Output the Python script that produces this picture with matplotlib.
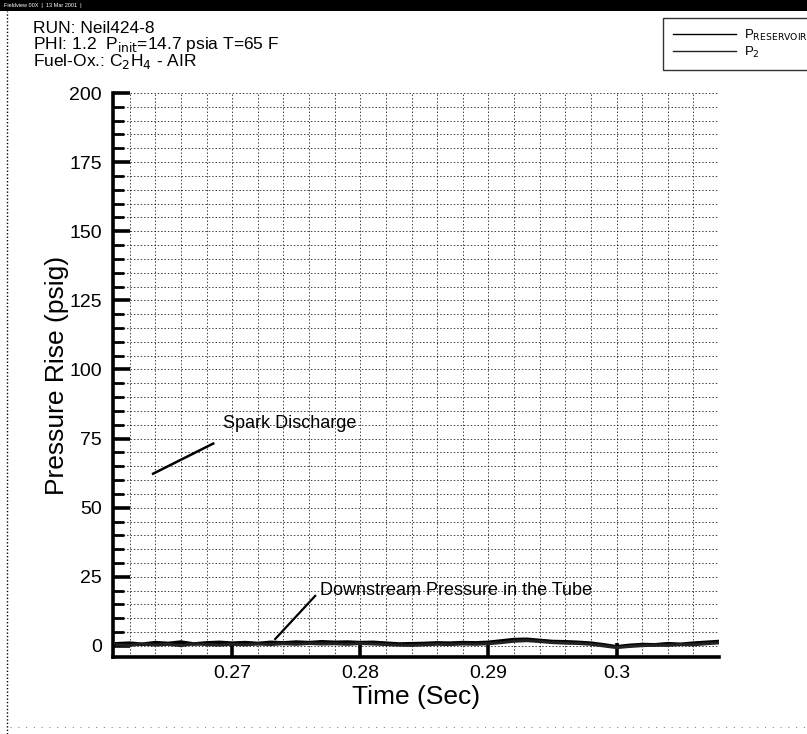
import matplotlib
matplotlib.use("Agg")
import matplotlib.pyplot as plt
from matplotlib.ticker import MultipleLocator, FixedLocator
from matplotlib.patches import Rectangle
from matplotlib.lines import Line2D

plt.rcParams['font.family'] = ['Liberation Sans', 'DejaVu Sans']

# ---------------- data ----------------
time_s = [0.261, 0.262, 0.263, 0.264, 0.265, 0.266, 0.267, 0.268, 0.269, 0.270,
          0.271, 0.272, 0.273, 0.274, 0.275, 0.276, 0.277, 0.278, 0.279, 0.280,
          0.281, 0.282, 0.283, 0.284, 0.285, 0.286, 0.287, 0.288, 0.289, 0.290,
          0.291, 0.292, 0.293, 0.294, 0.295, 0.296, 0.297, 0.298, 0.299, 0.300,
          0.301, 0.302, 0.303, 0.304, 0.305, 0.306, 0.307, 0.308]
p_reservoir = [0.8, 1.0, 0.6, 1.2, 0.9, 1.4, 0.7, 1.1, 1.3, 1.0,
               1.2, 0.9, 1.3, 1.1, 1.4, 1.2, 1.5, 1.3, 1.4, 1.2,
               1.3, 1.0, 0.7, 0.8, 0.9, 1.1, 1.0, 1.2, 1.1, 1.3,
               1.8, 2.3, 2.4, 2.0, 1.6, 1.5, 1.3, 1.0, 0.4, -0.3,
               0.2, 0.5, 0.4, 0.8, 0.6, 1.0, 1.3, 1.6]
p_2 = [0.4, 0.2, 0.7, 0.3, 0.6, 0.1, 0.8, 0.5, 0.3, 0.6,
       0.4, 0.7, 0.5, 0.8, 0.6, 0.9, 0.7, 0.8, 0.6, 0.9,
       0.7, 0.5, 0.3, 0.2, 0.4, 0.6, 0.5, 0.7, 0.6, 0.8,
       1.2, 1.7, 1.9, 1.6, 1.2, 1.0, 0.9, 0.6, 0.0, -0.6,
       -0.2, 0.1, 0.3, 0.2, 0.5, 0.4, 0.8, 1.1]

x_ticks = [0.27, 0.28, 0.29, 0.30]
x_tick_labels = ['0.27', '0.28', '0.29', '0.3']
y_ticks = [0, 25, 50, 75, 100, 125, 150, 175, 200]

header_lines = ['RUN: Neil424-8',
                'PHI: 1.2  P$_{\\rm init}$=14.7 psia T=65 F',
                'Fuel-Ox.: C$_2$H$_4$ - AIR']

spark_text_xy = (0.2693, 80.5)
spark_line_x = [0.26383, 0.26852]
spark_line_y = [62.3, 73.2]
down_text_xy = (0.27688, 19.9)
down_line_x = [0.27336, 0.27648]
down_line_y = [2.5, 18.1]

# ---------------- figure ----------------
W, H = 807, 734
fig = plt.figure(figsize=(W / 100, H / 100), dpi=100)
fig.patch.set_facecolor('white')

ax = fig.add_axes([113 / W, 1 - 657 / H, (719 - 113) / W, (657 - 93) / H])
ax.set_facecolor('white')

l1, = ax.plot(time_s, p_reservoir, color='black', lw=2.6, label='P$_{\\rm RESERVOIR}$')
l2, = ax.plot(time_s, p_2, color='#222222', lw=2.2, label='P$_2$')

ax.set_xlim(0.2607, 0.3080)
ax.set_ylim(-4, 200)

ax.xaxis.set_major_locator(FixedLocator(x_ticks))
ax.set_xticklabels(x_tick_labels)
ax.xaxis.set_minor_locator(MultipleLocator(0.002))
ax.yaxis.set_major_locator(FixedLocator(y_ticks))
ax.yaxis.set_minor_locator(MultipleLocator(5))

ax.grid(True, which='both', axis='both', linestyle=(0, (1.5, 2.0)), color='black',
        lw=0.7, alpha=0.75)
ax.set_axisbelow(True)

for s in ['top', 'right']:
    ax.spines[s].set_visible(False)
for s in ['left', 'bottom']:
    ax.spines[s].set_linewidth(2.6)

ax.tick_params(axis='y', which='major', direction='in', length=12, width=2.6,
               labelsize=14, pad=8)
ax.tick_params(axis='y', which='minor', direction='in', length=8, width=2.0)
ax.tick_params(axis='x', which='major', direction='in', length=10, width=2.6,
               labelsize=14, pad=6)
ax.tick_params(axis='x', which='minor', length=0)

ax.set_xlabel('Time (Sec)', fontsize=19)
ax.set_ylabel('Pressure Rise (psig)', fontsize=19)
ax.xaxis.set_label_coords(0.5, -0.05)
ax.yaxis.set_label_coords(-0.072, 0.5)

# annotations
ax.plot(spark_line_x, spark_line_y, color='black', lw=1.8)
ax.text(spark_text_xy[0], spark_text_xy[1], 'Spark Discharge', fontsize=13,
        ha='left', va='center')
ax.plot(down_line_x, down_line_y, color='black', lw=1.6)
ax.text(down_text_xy[0], down_text_xy[1], 'Downstream Pressure in the Tube',
        fontsize=13, ha='left', va='center')

# header
fig.patches.append(Rectangle((0, 1 - 11 / H), 1, 11 / H, transform=fig.transFigure,
                             facecolor='black', edgecolor='none'))
fig.text(4 / W, 1 - 5.5 / H, 'Fieldview 00X  |  13 Mar 2001  |', color='white',
         fontsize=4, va='center', ha='left')
fig.lines.append(Line2D([7 / W, 7 / W], [0, 1 - 11 / H], transform=fig.transFigure,
                        color='black', lw=1.0, linestyle=(0, (1, 1.5))))
fig.lines.append(Line2D([10 / W, 1], [1 - 727 / H, 1 - 727 / H], transform=fig.transFigure,
                        color='#888888', lw=0.8, linestyle=(0, (1, 6))))

fig.text(33 / W, 1 - 46 / H, '\n'.join(header_lines), fontsize=12.5,
         va='center', ha='left', linespacing=0.86)

leg = fig.legend(handles=[l1, l2], loc='upper left',
                 bbox_to_anchor=(663 / W, 1 - 18 / H), fontsize=9.5,
                 handlelength=4.8, frameon=True, fancybox=False,
                 borderpad=0.75, labelspacing=0.15, handletextpad=0.6,
                 borderaxespad=0.0)
leg.get_frame().set_edgecolor('black')
leg.get_frame().set_linewidth(1.0)
for lh in leg.get_lines():
    lh.set_linewidth(1.0)

fig.savefig('out.png', dpi=100)
